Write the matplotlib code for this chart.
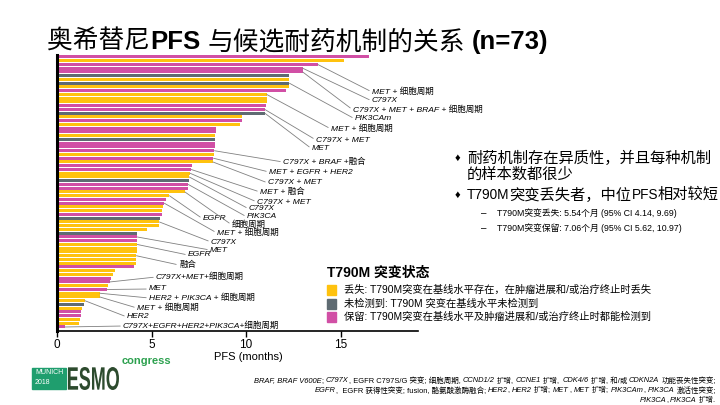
import matplotlib
matplotlib.use("Agg")
import matplotlib.pyplot as plt
from matplotlib.patches import Rectangle, PathPatch
from matplotlib.textpath import TextPath
from matplotlib.font_manager import FontProperties
from matplotlib.transforms import IdentityTransform, Affine2D

plt.rcParams["font.family"] = ["Liberation Sans", "Noto Sans CJK SC", "DejaVu Sans"]

# PFS per patient (months), top to bottom, and T790M status (Y=lost, G=not detected, M=maintained)
pfs = [16.5, 15.2, 13.8, 13.0, 13.0, 12.3, 12.3, 12.3, 12.3, 12.1,
       11.1, 11.1, 11.1, 11.05, 11.0, 11.0, 9.8, 9.77, 9.68, 8.42,
       8.41, 8.38, 8.36, 8.35, 8.34, 8.33, 8.3, 8.28, 8.25, 7.12,
       7.1, 7.04, 7.0, 6.97, 6.95, 6.92, 6.77, 5.95, 5.75, 5.68,
       5.6, 5.57, 5.54, 5.45, 5.42, 5.38, 4.74, 4.25, 4.25, 4.25,
       4.25, 4.22, 4.22, 4.2, 4.2, 4.18, 4.1, 3.07, 2.95, 2.84,
       2.78, 2.72, 2.66, 2.27, 2.27, 1.48, 1.42, 1.3, 1.27, 1.25,
       1.2, 1.18, 0.42]
status = ("MYMMMGYGYM" "YYYMMGYMYM" "MYGMMMYMYM" "MYYGMMYYMM"
          "YYMGYYYGMM" "YYYYYYMYYM" "MYMYYYGYMM" "YYM")

status_colors = {"Y": "#FFC20E", "G": "#5F6B72", "M": "#D14FA5"}
legend_title = "T790M 突变状态"
legend_keys = ["Y", "G", "M"]
legend_texts = ["丢失: T790M突变在基线水平存在，在肿瘤进展和/或治疗终止时丢失",
                "未检测到: T790M 突变在基线水平未检测到",
                "保留: T790M突变在基线水平及肿瘤进展和/或治疗终止时都能检测到"]

mech_labels = ["MET + 细胞周期", "C797X", "C797X + MET + BRAF + 细胞周期", "PIK3CAm",
               "MET + 细胞周期", "C797X + MET", "MET", "C797X + BRAF +融合",
               "MET + EGFR + HER2", "C797X + MET", "MET + 融合", "C797X + MET",
               "C797X", "PIK3CA", "EGFR", "细胞周期", "MET + 细胞周期", "C797X",
               "MET", "EGFR", "融合", "C797X+MET+细胞周期", "MET",
               "HER2 + PIK3CA + 细胞周期", "MET + 细胞周期", "HER2",
               "C797X+EGFR+HER2+PIK3CA+细胞周期"]
mech_bars = [2, 3, 4, 7, 10, 14, 15, 25, 27, 28, 30, 31, 32, 34, 37, 36, 39, 44,
             48, 50, 53, 60, 62, 63, 64, 65, 72]
# label anchor (left edge, middle) in image pixels
label_xy = [(372, 92), (372, 101), (353, 110), (355, 119), (331, 129), (316, 140),
            (312, 149), (283, 162), (269, 172), (268, 183), (260, 192), (257, 202),
            (249, 209), (247, 217), (203, 219), (232, 225), (217, 233), (211, 242),
            (210, 250), (188, 255), (179, 265), (156, 277), (149, 289), (149, 298),
            (137, 308), (127, 317), (123, 326)]

xticks = [0, 5, 10, 15]

W, H = 720, 405
fig = plt.figure(figsize=(7.2, 4.05), dpi=100)
renderer = fig.canvas.get_renderer()
PX = IdentityTransform()

ax = fig.add_axes([57 / W, 1 - 331 / H, (418 - 57) / W, 276 / H])
ypos = list(range(len(pfs)))
ax.barh(ypos, pfs, height=0.8, color=[status_colors[s] for s in status])
ax.set_xlim(0, 19.1)
ax.set_ylim(73.07, -0.53)
ax.set_yticks([])
ax.set_xticks(xticks)
ax.tick_params(axis="x", length=4, width=1, labelsize=8.5, pad=2)
for s in ["top", "right"]:
    ax.spines[s].set_visible(False)
ax.spines["left"].set_linewidth(2.2)
ax.spines["bottom"].set_linewidth(1.2)
ax.set_xlabel("PFS (months)", fontsize=8, labelpad=1)
ax.xaxis.set_label_coords((248 - 57) / (418 - 57), -0.075)

for lab, b, (tx, ty) in zip(mech_labels, mech_bars, label_xy):
    ax.annotate(lab, xy=(pfs[b], b), xycoords="data",
                xytext=(tx, H - ty), textcoords="figure pixels",
                ha="left", va="center", fontsize=6.1, style="italic",
                arrowprops=dict(arrowstyle="-", color="#808080", lw=0.6,
                                shrinkA=0, shrinkB=0, relpos=(0, 0.5)))


def rich(x, y, parts, size, ha="left", color="black"):
    placed = []
    total = 0
    for part in parts:
        s, style, weight = part[:3]
        sz = part[3] if len(part) > 3 else size
        sp = sz * 100 / 72 * 0.28
        lead = len(s) - len(s.lstrip(" "))
        trail = len(s) - len(s.rstrip(" "))
        core = s.strip(" ")
        t = fig.text(0, 0, core, fontsize=sz, style=style, weight=weight,
                     color=color, va="center", ha="left", transform=PX)
        w = t.get_window_extent(renderer).width if core else 0
        placed.append((t, total + lead * sp))
        total += lead * sp + w + trail * sp
    x0 = x - total if ha == "right" else x
    for t, off in placed:
        t.set_position((x0 + off, y))


def italics(s):
    return [(p, "italic" if i % 2 else "normal", "normal")
            for i, p in enumerate(s.split("*")) if p]


# title
rich(47, H - 42, [("奥希替尼", "normal", "normal"), ("PFS", "normal", "bold"),
                  (" 与候选耐药机制的关系 ", "normal", "normal"),
                  ("(n=73)", "normal", "bold")], 18.5)

# bullets
fig.text(455, H - 158, "♦", fontsize=8, va="center", transform=PX)
fig.text(467, H - 158, "耐药机制存在异质性，并且每种机制", fontsize=11, va="center", transform=PX)
fig.text(467, H - 175, "的样本数都很少", fontsize=11, va="center", transform=PX)
fig.text(455, H - 195, "♦", fontsize=8, va="center", transform=PX)
rich(467, H - 195, [("T790M", "normal", "normal", 9.8), ("突变丢失者，中位", "normal", "normal"),
                    ("PFS", "normal", "normal", 9.8), ("相对较短", "normal", "normal")], 11)
fig.text(481, H - 213, "–", fontsize=7, va="center", transform=PX)
fig.text(497, H - 213, "T790M突变丢失: 5.54个月 (95% CI 4.14, 9.69)", fontsize=6.3,
         va="center", transform=PX)
fig.text(481, H - 228, "–", fontsize=7, va="center", transform=PX)
fig.text(497, H - 228, "T790M突变保留: 7.06个月 (95% CI 5.62, 10.97)", fontsize=6.3,
         va="center", transform=PX)

# legend
fig.text(327, H - 273, legend_title, fontsize=10, weight="bold", va="center", transform=PX)
for k, (key, txt) in enumerate(zip(legend_keys, legend_texts)):
    yy = 290 + k * 13.5
    fig.add_artist(Rectangle((327, H - yy - 5), 9, 10, transform=PX,
                             color=status_colors[key]))
    fig.text(344, H - yy, txt, fontsize=7.4, va="center", transform=PX)

# footnote
foot = ["*BRAF, BRAF V600E*; *C797X*, EGFR C797S/G 突变; 细胞周期, *CCND1/2* 扩增, *CCNE1* 扩增, "
        "*CDK4/6* 扩增, 和/或 *CDKN2A* 功能丧失性突变;",
        "*EGFR*,  EGFR 获得性突变; fusion, 酪氨酸激酶融合; *HER2*, *HER2* 扩增; *MET*, *MET* 扩增; "
        "*PIK3CAm*, *PIK3CA* 激活性突变;",
        "*PIK3CA*, *PIK3CA* 扩增."]
for k, line in enumerate(foot):
    rich(716, H - 381 - k * 9.7, italics(line), 5.4, ha="right")

# logo
fig.add_artist(Rectangle((32, H - 389), 34, 21, transform=PX, color="#1F9E6E"))
fig.text(35, H - 373, "MUNICH", fontsize=5, color="white", va="center", transform=PX)
fig.text(35, H - 383, "2018", fontsize=5, color="white", va="center", transform=PX)
tp = TextPath((0, 0), "ESMO", size=20, prop=FontProperties(family="Liberation Sans", weight="bold"))
bb = tp.get_extents()
tf = (Affine2D().translate(-bb.x0, -bb.y0)
      .scale(51 / bb.width, 23 / bb.height).translate(68, H - 390))
fig.add_artist(PathPatch(tf.transform_path(tp), transform=PX,
                         facecolor="#2D4B2E", edgecolor="none"))
fig.text(122, H - 361, "congress", fontsize=8, weight="bold", color="#2DA14F",
         va="center", transform=PX)

fig.savefig("out.png", dpi=100)
